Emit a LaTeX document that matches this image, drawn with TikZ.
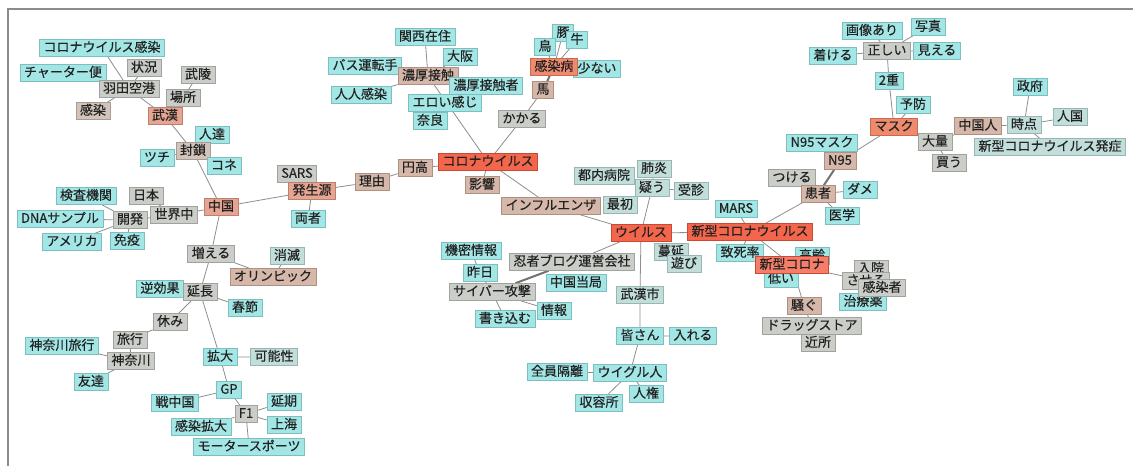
\documentclass[tikz,border=0pt]{standalone}
\usepackage{fontspec}
\usetikzlibrary{backgrounds}
\newfontfamily\jp[FakeBold=0.3]{Noto Sans CJK JP}
\definecolor{cyanF}{HTML}{A3E6E6}\definecolor{cyanD}{HTML}{7FBEBE}
\definecolor{paleF}{HTML}{C2DEDA}\definecolor{paleD}{HTML}{98B6B2}
\definecolor{grayF}{HTML}{CBCEC8}\definecolor{grayD}{HTML}{A0A39D}
\definecolor{tanF}{HTML}{D6B8AA}\definecolor{tanD}{HTML}{AE9082}
\definecolor{tgF}{HTML}{D2C4BA}\definecolor{tgD}{HTML}{AA9C92}
\definecolor{salF}{HTML}{E6A592}\definecolor{salD}{HTML}{BE806E}
\definecolor{orF}{HTML}{EE8A6E}\definecolor{orD}{HTML}{C66A50}
\definecolor{redF}{HTML}{F4664C}\definecolor{redD}{HTML}{C84A34}
\definecolor{lineC}{HTML}{8E8E8E}
\definecolor{txtC}{HTML}{222222}
\tikzset{
  nd/.style={rectangle, inner xsep=4pt, inner ysep=0pt, minimum height=17pt,
    text height=10pt, text depth=2.5pt, line width=0.6pt, text=txtC,
    font=\jp\fontsize{13}{14}\selectfont},
  cy/.style={nd, fill=cyanF, draw=cyanD},
  pl/.style={nd, fill=paleF, draw=paleD},
  gr/.style={nd, fill=grayF, draw=grayD},
  tn/.style={nd, fill=tanF, draw=tanD},
  tg/.style={nd, fill=tgF, draw=tgD},
  sa/.style={nd, fill=salF, draw=salD},
  orn/.style={nd, fill=orF, draw=orD},
  rd/.style={nd, fill=redF, draw=redD},
  ed/.style={draw=lineC, line width=0.8pt},
  thk/.style={draw=black!55, line width=2pt},
}
\begin{document}
\begin{tikzpicture}[x=1pt,y=-1pt]
\useasboundingbox (0,0) rectangle (1133,466);
% ---------- nodes ----------
% top-left
\node[cy] (kansenA) at (102,48) {コロナウイルス感染};
\node[cy] (charter) at (63,73) {チャーター便};
\node[gr] (jokyo) at (144,68) {状況};
\node[gr] (haneda) at (129,89) {羽田空港};
\node[gr] (buryo) at (198,75) {武陵};
\node[gr] (basho) at (183,98) {場所};
\node[tg] (kansen) at (93,111) {感染};
\node[sa] (wuhan) at (165,116) {武漢};
\node[cy] (hitotachi) at (212,135) {人達};
\node[tg] (fusa) at (193,151) {封鎖};
\node[cy] (tsuchi) at (157,158) {ツチ};
\node[cy] (kone) at (224,166) {コネ};
\node[gr] (sars) at (297,174) {SARS};
\node[sa] (hassei) at (312,191) {発生源};
\node[cy] (ryosha) at (308,219) {両者};
\node[cy] (kensa) at (86,196) {検査機関};
\node[gr] (nihon) at (146,196) {日本};
\node[gr] (sekai) at (174,215) {世界中};
\node[sa] (china) at (221,207) {中国};
\node[cy] (dna) at (60,219) {DNAサンプル};
\node[gr] (kaihatsu) at (130,220) {開発};
\node[cy] (america) at (72,242) {アメリカ};
\node[cy] (meneki) at (127,241) {免疫};
\node[gr] (fueru) at (211,254) {増える};
\node[pl] (shometsu) at (287,256) {消滅};
\node[tn] (olympic) at (273,277) {オリンピック};
\node[cy] (gyaku) at (160,289) {逆効果};
\node[gr] (encho) at (200,292) {延長};
\node[cy] (shunsetsu) at (245,308) {春節};
\node[gr] (yasumi) at (170,322) {休み};
\node[gr] (ryoko) at (130,340) {旅行};
\node[cy] (kanaryoko) at (62,346) {神奈川旅行};
\node[gr] (kanagawa) at (131,361) {神奈川};
\node[cy] (tomodachi) at (91,382) {友達};
\node[cy] (kakudai) at (220,357) {拡大};
\node[pl] (kanosei) at (274,357) {可能性};
\node[cy] (gp) at (229,390) {GP};
\node[cy] (senchu) at (175,403) {戦中国};
\node[cy] (enki) at (284,402) {延期};
\node[gr] (f1) at (246,414) {F1};
\node[cy] (shanghai) at (284,425) {上海};
\node[cy] (kakudai2) at (201,427) {感染拡大};
\node[cy] (motor) at (249,447) {モータースポーツ};
% top-centre
\node[cy] (kansai) at (425,37) {関西在住};
\node[cy] (osaka) at (460,57) {大阪};
\node[cy] (bus) at (365,66) {バス運転手};
\node[tn] (noko) at (428,76) {濃厚接触};
\node[cy] (jinjin) at (361,95) {人人感染};
\node[cy] (nokosha) at (486,86) {濃厚接触者};
\node[cy] (eroi) at (445,103) {エロい感じ};
\node[cy] (nara) at (430,121) {奈良};
\node[cy] (buta) at (563,33) {豚};
\node[cy] (tori) at (545,47) {鳥};
\node[cy] (ushi) at (577,40) {牛};
\node[cy] (sukunai) at (597,69) {少ない};
\node[orn] (kansenbyo) at (554,67) {感染病};
\node[tn] (uma) at (543,90) {馬};
\node[gr] (kakaru) at (522,119) {かかる};
\node[rd] (corona) at (488,162) {コロナウイルス};
\node[tn] (endaka) at (415,168) {円高};
\node[tn] (riyu) at (372,182) {理由};
\node[tn] (eikyo) at (482,185) {影響};
\node[tn] (influ) at (551,206) {インフルエンザ};
\node[pl] (tonai) at (604,176) {都内病院};
\node[pl] (saisho) at (620,205) {最初};
\node[pl] (haien) at (654,169) {肺炎};
\node[pl] (utagau) at (652,188) {疑う};
\node[pl] (jushin) at (691,191) {受診};
\node[rd] (virus) at (641,233) {ウイルス};
\node[pl] (manen) at (671,252) {蔓延};
\node[pl] (asobi) at (684,264) {遊び};
\node[cy] (kimitsu) at (471,251) {機密情報};
\node[gr] (ninja) at (572,262) {忍者ブログ運営会社};
\node[cy] (sakujitsu) at (480,273) {昨日};
\node[cy] (tokyoku) at (576,283) {中国当局};
\node[gr] (cyber) at (492,292) {サイバー攻撃};
\node[cy] (joho) at (554,311) {情報};
\node[cy] (kakikomu) at (505,319) {書き込む};
\node[pl] (wuhanshi) at (640,295) {武漢市};
\node[cy] (minasan) at (640,336) {皆さん};
\node[cy] (ireru) at (693,336) {入れる};
\node[cy] (zenin) at (557,372) {全員隔離};
\node[cy] (uighur) at (630,373) {ウイグル人};
\node[cy] (jinken) at (646,394) {人権};
\node[cy] (shuyo) at (599,403) {収容所};
% right
\node[cy] (gazo) at (872,31) {画像あり};
\node[cy] (shashin) at (928,27) {写真};
\node[cy] (tsukeru) at (833,56) {着ける};
\node[gr] (tadashii) at (887,51) {正しい};
\node[cy] (mieru) at (937,51) {見える};
\node[cy] (niju) at (889,81) {2重};
\node[cy] (yobo) at (913,105) {予防};
\node[orn] (mask) at (894,127) {マスク};
\node[cy] (seifu) at (1030,87) {政府};
\node[pl] (jinkoku) at (1070,117) {人国};
\node[tn] (chugokujin) at (978,126) {中国人};
\node[pl] (jiten) at (1024,125) {時点};
\node[gr] (tairyo) at (935,142) {大量};
\node[pl] (hassho) at (1050,147) {新型コロナウイルス発症};
\node[gr] (kau) at (949,163) {買う};
\node[cy] (n95mask) at (822,143) {N95マスク};
\node[tn] (n95) at (840,161) {N95};
\node[gr] (tsukeru2) at (792,178) {つける};
\node[tn] (kanja) at (818,194) {患者};
\node[cy] (dame) at (860,190) {ダメ};
\node[cy] (igaku) at (842,216) {医学};
\node[cy] (mars) at (736,209) {MARS};
\node[rd] (shingata) at (750,232) {新型コロナウイルス};
\node[cy] (chishi) at (740,253) {致死率};
\node[cy] (korei) at (812,256) {高齢};
\node[cy] (hikui) at (781,279) {低い};
\node[rd, fill=redF!85!white] (shinkorona) at (792,265) {新型コロナ};
\node[gr] (nyuin) at (871,269) {入院};
\node[gr] (saseru) at (866,281) {させる};
\node[cy] (chiryo) at (863,302) {治療薬};
\node[gr] (kansensha) at (882,288) {感染者};
\node[tn] (sawagu) at (804,306) {騒ぐ};
\node[gr] (drug) at (812,326) {ドラッグストア};
\node[gr] (kinjo) at (818,343) {近所};
% ---------- edges (behind nodes) ----------
\begin{scope}[on background layer]
\fill[white] (0,0) rectangle (1133,466);
\draw[black!45, line width=1.5pt] (8,466) -- (8,9) -- (1133,9);
\path[ed] (kansenA) -- (haneda) (jokyo) -- (haneda) (charter) -- (haneda)
  (kansen) -- (haneda) (haneda) -- (wuhan) (buryo) -- (basho) (basho) -- (wuhan)
  (wuhan) -- (fusa) (hitotachi) -- (fusa) (tsuchi) -- (fusa) (kone) -- (fusa)
  (fusa) -- (china) (china) -- (hassei) (sars) -- (hassei) (ryosha) -- (hassei)
  (hassei) -- (riyu) (riyu) -- (endaka) (endaka) -- (corona)
  (china) -- (sekai) (nihon) -- (sekai) (sekai) -- (kaihatsu) (kensa) -- (kaihatsu)
  (dna) -- (kaihatsu) (america) -- (kaihatsu) (meneki) -- (kaihatsu)
  (china) -- (fueru) (fueru) -- (olympic) (shometsu) -- (olympic) (fueru) -- (encho)
  (gyaku) -- (encho) (shunsetsu) -- (encho) (encho) -- (yasumi) (yasumi) -- (ryoko)
  (ryoko) -- (kanagawa) (kanaryoko) -- (kanagawa) (tomodachi) -- (kanagawa)
  (encho) -- (kakudai) (kakudai) -- (kanosei) (kakudai) -- (gp) (senchu) -- (gp)
  (gp) -- (f1) (enki) -- (f1) (shanghai) -- (f1) (kakudai2) -- (f1) (motor) -- (f1)
  (kansai) -- (noko) (osaka) -- (noko) (bus) -- (noko) (jinjin) -- (noko)
  (nokosha) -- (noko) (noko) -- (corona)
  (tori) -- (kansenbyo) (buta) -- (kansenbyo) (ushi) -- (kansenbyo) (sukunai) -- (kansenbyo)
  (uma) -- (kakaru) (kakaru) -- (corona) (eikyo) -- (corona) (corona) -- (influ)
  (influ) -- (virus) (utagau) -- (virus) (tonai) -- (utagau) (haien) -- (utagau)
  (jushin) -- (utagau) (virus) -- (shingata) (virus) -- (ninja)
  (kimitsu) -- (sakujitsu) (sakujitsu) -- (cyber) (cyber) -- (kakikomu) (cyber) -- (joho)
  (virus) -- (wuhanshi) (wuhanshi) -- (minasan) (minasan) -- (ireru) (minasan) -- (uighur)
  (zenin) -- (uighur) (uighur) -- (shuyo) (uighur) -- (jinken)
  (shingata) -- (kanja) (mask) -- (n95) (n95mask) -- (n95) (tsukeru2) -- (kanja)
  (dame) -- (kanja) (igaku) -- (kanja) (mars) -- (shingata) (chishi) -- (shingata)
  (shingata) -- (shinkorona) (shinkorona) -- (sawagu) (sawagu) -- (drug) (drug) -- (kinjo)
  (shinkorona) -- (saseru) (nyuin) -- (saseru) (kansensha) -- (saseru) (chiryo) -- (saseru)
  (hikui) -- (shinkorona) (korei) -- (shinkorona)
  (niju) -- (mask) (yobo) -- (mask) (mask) -- (tairyo) (tairyo) -- (kau)
  (tairyo) -- (chugokujin) (chugokujin) -- (jiten) (seifu) -- (jiten) (jinkoku) -- (jiten)
  (jiten) -- (hassho) (tadashii) -- (niju) (gazo) -- (tadashii) (shashin) -- (tadashii)
  (tsukeru) -- (tadashii) (mieru) -- (tadashii);
\path[thk] (kansenbyo) -- (uma) (ninja) -- (cyber) (n95) -- (kanja);
\end{scope}
\end{tikzpicture}
\end{document}
